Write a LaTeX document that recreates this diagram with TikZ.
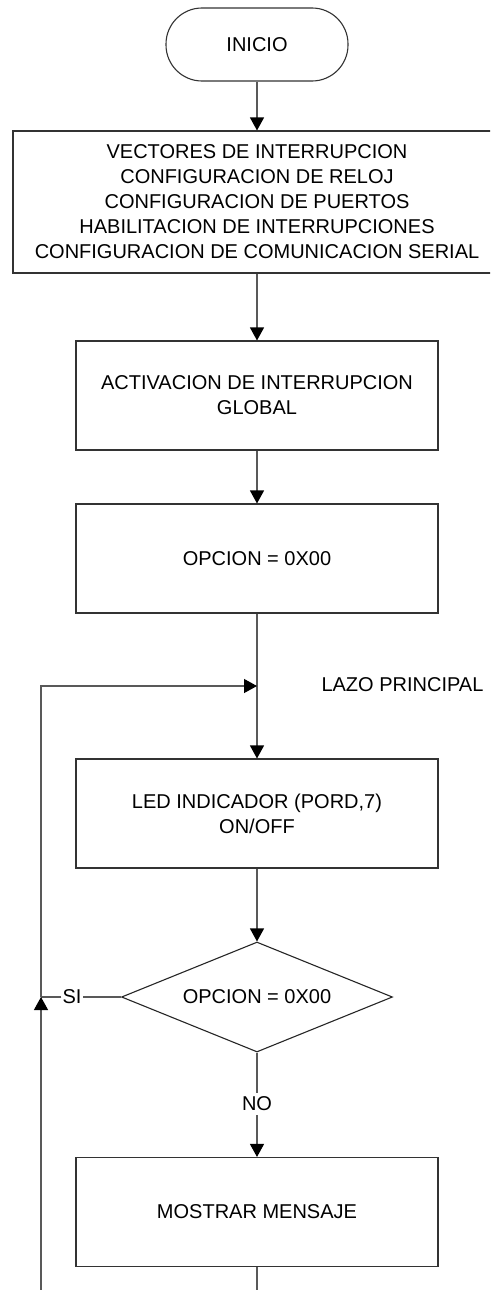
\documentclass[tikz,border=0pt]{standalone}
\usepackage{fontspec}
\setmainfont{Liberation Sans}
\usetikzlibrary{arrows.meta,shapes.geometric}
\begin{document}
\begin{tikzpicture}[x=1pt,y=-1pt,
  txt/.style={font=\fontsize{20}{25}\selectfont, align=center},
  box/.style={txt, draw=black!80, line width=1.1pt, fill=white,
    minimum width=362pt, minimum height=109pt, inner sep=0pt},
  term/.style={txt, draw=black!80, line width=1.1pt, rounded corners=36pt,
    minimum width=182pt, minimum height=73pt, inner sep=0pt},
  dec/.style={txt, draw=black!85, line width=1.1pt, diamond, aspect=2.46,
    minimum width=271pt, minimum height=110pt, inner sep=0pt},
  flow/.style={draw=black!65, line width=1.2pt},
  arr/.style={flow, -{Triangle[width=14pt,length=13pt,color=black]}}]
\useasboundingbox (0,0) rectangle (490,1290);
\clip (0,0) rectangle (490,1290);
\fill[white] (0,0) rectangle (490,1290);

% blocks of the main sequence
\node[term] (inicio) at (257,44.5) {INICIO};
\node[box, minimum width=488pt, minimum height=142pt] (cfg) at (257,202)
  {VECTORES DE INTERRUPCION\\CONFIGURACION DE RELOJ\\CONFIGURACION DE PUERTOS\\HABILITACION DE INTERRUPCIONES\\CONFIGURACION DE COMUNICACION SERIAL};
\node[box] (act) at (257,395.5) {ACTIVACION DE INTERRUPCION\\GLOBAL};
\node[box] (opc) at (257,558.5) {OPCION = 0X00};
\coordinate (lazo) at (257,686);
\node[txt, anchor=west] (lazolbl) at (318,685) {LAZO PRINCIPAL};
\node[box] (led) at (257,813.5) {LED INDICADOR (PORD,7)\\ON/OFF};
\node[dec] (dec) at (257,997) {OPCION = 0X00};
\node[txt, inner sep=1pt] (si) at (72,997) {SI};
\node[txt, inner sep=4pt] (no) at (257,1104) {NO};
\node[box] (msg) at (257,1212) {MOSTRAR MENSAJE};

% loop return path
\coordinate (ret) at (41,997);
\coordinate (lazol) at (41,686);
\coordinate (retb) at (41,1296);
\coordinate (msgb) at (257,1296);

% connectors
\draw[arr] (inicio) -- (cfg);
\draw[arr] (cfg) -- (act);
\draw[arr] (act) -- (opc);
\draw[flow] (opc) -- (lazo);
\draw[arr] (lazo) -- (led);
\draw[arr] (led) -- (dec);
\draw[flow] (dec) -- (no);
\draw[arr] (no) -- (msg);
\draw[flow] (msg) -- (msgb);
\draw[flow] (dec.west) -- (si);
\draw[flow] (si) -- (ret);
\draw[arr] (retb) -- (ret);
\draw[arr] (ret) -- (lazol) -- (lazo);
\end{tikzpicture}
\end{document}
